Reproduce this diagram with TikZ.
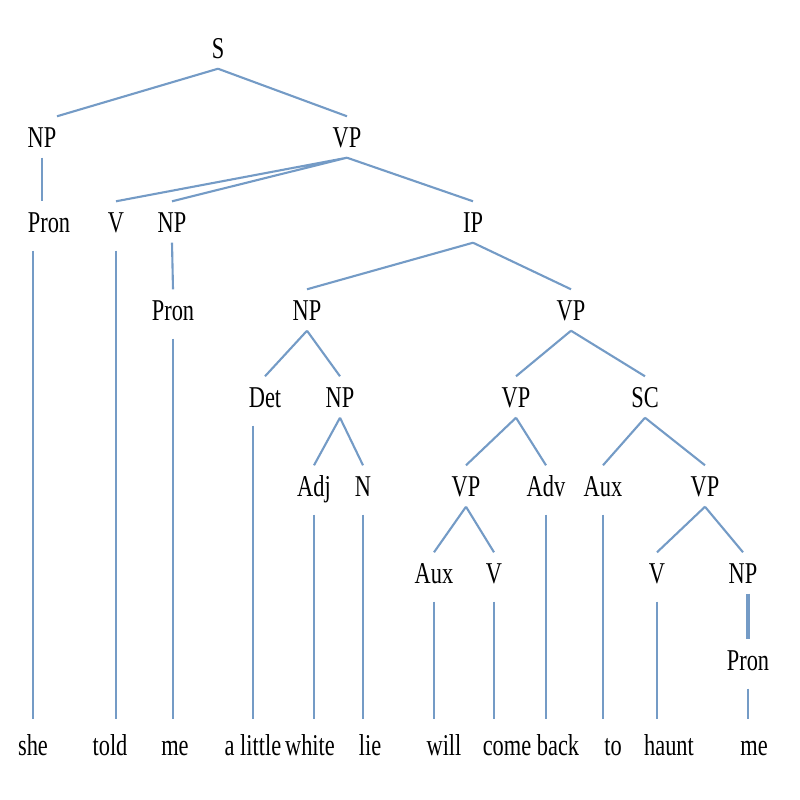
\documentclass[tikz,border=0pt]{standalone}
\usepackage{fontspec}
\setmainfont{Liberation Serif}[FakeStretch=0.74]
\usetikzlibrary{positioning}
\definecolor{branchblue}{RGB}{116,155,198}

\begin{document}
\begin{tikzpicture}[
  x=0.01cm,y=-0.01cm,
  every node/.style={font=\fontsize{8.6}{10}\selectfont},
  cat/.style={inner xsep=0pt,inner ysep=0.1cm,text height=0.2cm,text depth=0pt},
  word/.style={cat},
  branch/.style={draw=branchblue,line width=0.6pt},
  stem/.style={branch,shorten <=0.08cm,shorten >=0.05cm}]

  \useasboundingbox (0,0) rectangle (800,800);

  \node[cat] (s) at (218,48) {S};
  \node[cat] (np-subj) at (42,137) {NP};
  \node[cat] (vp-main) at (347,137) {VP};
  \node[cat] (pron-subj) at (49,222) {Pron};
  \node[cat] (v-told) at (116,222) {V};
  \node[cat] (np-obj) at (172,222) {NP};
  \node[cat] (ip) at (473,222) {IP};
  \node[cat] (pron-obj) at (173,310) {Pron};
  \node[cat] (np-lie) at (307,310) {NP};
  \node[cat] (vp-ip) at (571,310) {VP};
  \node[cat] (det) at (265,397) {Det};
  \node[cat] (np-adj) at (340,397) {NP};
  \node[cat] (vp-come) at (516,397) {VP};
  \node[cat] (sc) at (645,397) {SC};
  \node[cat] (adj) at (314,486) {Adj};
  \node[cat] (n) at (363,486) {N};
  \node[cat] (vp-will) at (466,486) {VP};
  \node[cat] (adv) at (546,486) {Adv};
  \node[cat] (aux-to) at (603,486) {Aux};
  \node[cat] (vp-haunt) at (705,486) {VP};
  \node[cat] (aux-will) at (434,573) {Aux};
  \node[cat] (v-come) at (494,573) {V};
  \node[cat] (v-haunt) at (657,573) {V};
  \node[cat] (np-me) at (743,573) {NP};
  \node[cat] (pron-me) at (748,660) {Pron};

  % words
  \node[word] (she) at (33,745) {she};
  \node[word] (told) at (110,745) {told};
  \node[word] (me1) at (175,745) {me};
  \node[word] (alittle) at (253,745) {a little};
  \node[word] (white) at (310,745) {white};
  \node[word] (lie) at (370,745) {lie};
  \node[word] (will) at (444,745) {will};
  \node[word] (come) at (507,745) {come};
  \node[word] (back) at (558,745) {back};
  \node[word] (to) at (613,745) {to};
  \node[word] (haunt) at (669,745) {haunt};
  \node[word] (me2) at (754,745) {me};

  \draw[branch] (s.south) -- (np-subj.north east) (s.south) -- (vp-main.north);
  \draw[branch] (np-subj.south) -- (np-subj.south |- pron-subj.north);
  \draw[branch] (vp-main.south) -- (v-told.north) (vp-main.south) -- (np-obj.north)
    (vp-main.south) -- (ip.north);
  \draw[branch] (np-obj.south) -- (pron-obj.north);
  \draw[branch] (ip.south) -- (np-lie.north) (ip.south) -- (vp-ip.north);
  \draw[branch] (np-lie.south) -- (det.north) (np-lie.south) -- (np-adj.north);
  \draw[branch] (vp-ip.south) -- (vp-come.north) (vp-ip.south) -- (sc.north);
  \draw[branch] (np-adj.south) -- (adj.north) (np-adj.south) -- (n.north);
  \draw[branch] (vp-come.south) -- (vp-will.north) (vp-come.south) -- (adv.north);
  \draw[branch] (sc.south) -- (aux-to.north) (sc.south) -- (vp-haunt.north);
  \draw[branch] (vp-will.south) -- (aux-will.north) (vp-will.south) -- (v-come.north);
  \draw[branch] (vp-haunt.south) -- (v-haunt.north) (vp-haunt.south) -- (np-me.north);
  \draw[branch,line width=1pt] (np-me.south -| pron-me.north) -- (pron-me.north);

  % down to the words
  \draw[stem] (pron-subj.south -| she.north) -- (she.north);
  \draw[stem] (v-told.south) -- (v-told.south |- told.north);
  \draw[stem] (pron-obj.south) -- (pron-obj.south |- me1.north);
  \draw[stem] (det.south -| alittle.north) -- (alittle.north);
  \draw[stem] (adj.south) -- (adj.south |- white.north);
  \draw[stem] (n.south) -- (n.south |- lie.north);
  \draw[stem] (aux-will.south) -- (aux-will.south |- will.north);
  \draw[stem] (v-come.south) -- (v-come.south |- come.north);
  \draw[stem] (adv.south) -- (adv.south |- back.north);
  \draw[stem] (aux-to.south) -- (aux-to.south |- to.north);
  \draw[stem] (v-haunt.south) -- (v-haunt.south |- haunt.north);
  \draw[stem] (pron-me.south) -- (pron-me.south |- me2.north);
\end{tikzpicture}
\end{document}
